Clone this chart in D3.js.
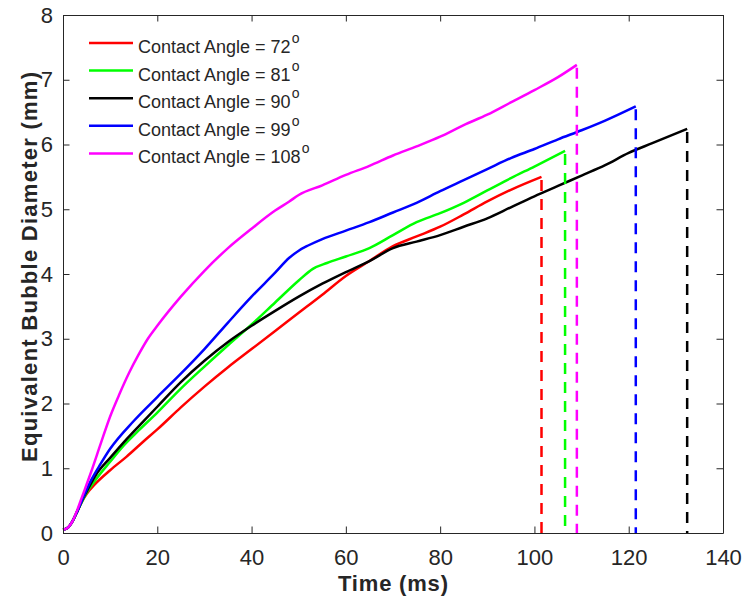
<!DOCTYPE html>
<html>
<head>
<meta charset="utf-8">
<script src="https://cdn.jsdelivr.net/npm/d3@7"></script>
<style>
	body { margin: 0; background: #fff; }
	text { font-family: "Liberation Sans", Arial, Helvetica, sans-serif; }
</style>
</head>
<body>
<div id="chart"></div>
<script>
// contact angles (legend) and line colours
var angles = [72, 81, 90, 99, 108];
var colors = ["#ff0000", "#00ff00", "#000000", "#0000ff", "#ff00ff"];

// [time (ms), equivalent bubble diameter (mm)]
var angle72 = [[0,0.05],[1,0.08],[2,0.18],[3,0.33],[4,0.48],[5,0.6],[7,0.77],[10,0.97],[13.5,1.18],[17,1.41],[20,1.6],[25,1.94],[30,2.26],[35,2.56],[40,2.84],[45,3.12],[50,3.4],[55,3.68],[60,3.97],[65,4.2],[70,4.43],[75,4.58],[80,4.73],[85,4.92],[90,5.12],[95,5.3],[101.5,5.5]];
var angle81 = [[0,0.05],[1,0.08],[2,0.18],[3,0.33],[4,0.48],[5,0.62],[7,0.83],[10,1.1],[13,1.36],[16,1.58],[20,1.86],[25,2.23],[30,2.57],[35,2.9],[40,3.22],[45,3.56],[50,3.9],[53,4.08],[56,4.17],[60,4.27],[65,4.4],[70,4.6],[75,4.8],[80,4.94],[85,5.1],[90,5.29],[95,5.48],[100,5.66],[106.5,5.9]];
var angle90 = [[0,0.05],[1,0.08],[2,0.18],[3,0.33],[4,0.5],[5,0.64],[7,0.9],[10,1.16],[13.5,1.45],[17,1.72],[20,1.95],[25,2.33],[30,2.66],[35,2.95],[40,3.2],[45,3.43],[50,3.65],[55,3.85],[60,4.03],[65,4.2],[70,4.4],[75,4.5],[80,4.6],[85,4.73],[90,4.86],[95,5.03],[100,5.2],[105,5.36],[110,5.52],[115,5.68],[120,5.87],[125,6.02],[132.4,6.24]];
var angle99 = [[0,0.05],[1,0.08],[2,0.18],[3,0.33],[4,0.5],[6,0.82],[8,1.07],[10,1.3],[15,1.73],[20,2.1],[25,2.46],[30,2.84],[35,3.25],[40,3.65],[45,4.02],[48,4.25],[50,4.36],[52,4.44],[55,4.54],[60,4.67],[65,4.8],[70,4.95],[75,5.1],[80,5.28],[85,5.45],[90,5.62],[95,5.79],[100,5.93],[105,6.08],[110,6.22],[115,6.37],[121.5,6.59]];
var angle108 = [[0,0.05],[1,0.08],[2,0.18],[3,0.35],[4,0.55],[6,0.95],[8,1.38],[10,1.8],[12,2.15],[14,2.47],[16,2.75],[18,3.0],[20,3.2],[25,3.65],[30,4.05],[35,4.4],[40,4.7],[45,4.98],[48,5.12],[50,5.22],[55,5.37],[60,5.53],[65,5.67],[70,5.83],[75,5.97],[80,6.12],[85,6.3],[90,6.46],[95,6.65],[100,6.84],[105,7.04],[109,7.23]];

var xTicks = [0, 20, 40, 60, 80, 100, 120, 140];
var yTicks = [0, 1, 2, 3, 4, 5, 6, 7, 8];

var series = [angle72, angle81, angle90, angle99, angle108];

var width = 742,
	height = 605,
	margin = {left: 63, right: 19, top: 15, bottom: 72},
	w = width - margin.left - margin.right,
	h = height - margin.top - margin.bottom,
	axisColor = "#262626";

var x = d3.scaleLinear().domain([0, 140]).range([0, w]);
var y = d3.scaleLinear().domain([0, 8]).range([h, 0]);

var svg = d3.select("#chart").append("svg")
	.attr("width", width)
	.attr("height", height)
	.style("background", "#fff");

var g = svg.append("g")
	.attr("transform", "translate(" + margin.left + "," + margin.top + ")");

var line = d3.line()
	.curve(d3.curveMonotoneX)
	.x(function(d) { return x(d[0]); })
	.y(function(d) { return y(d[1]); });

// curves
series.forEach(function(s, i) {
	g.append("path")
		.datum(s)
		.attr("fill", "none")
		.attr("stroke", colors[i])
		.attr("stroke-width", 2.5)
		.attr("stroke-linejoin", "round")
		.attr("d", line);
});

// dashed drop lines at detachment
series.forEach(function(s, i) {
	var last = s[s.length - 1];
	g.append("line")
		.attr("x1", x(last[0])).attr("x2", x(last[0]))
		.attr("y1", y(last[1]) + 3).attr("y2", y(0))
		.attr("stroke", colors[i])
		.attr("stroke-width", 2.5)
		.attr("stroke-dasharray", "11,8");
});

// axes (box with inward ticks)
function styleAxis(sel) {
	sel.select(".domain").attr("stroke", axisColor).attr("stroke-width", 1);
	sel.selectAll(".tick line").attr("stroke", axisColor);
	sel.selectAll("text")
		.attr("fill", axisColor)
		.style("font-size", "22px")
		.style("font-family", "'Liberation Sans', Arial, sans-serif");
}

g.append("g")
	.attr("transform", "translate(0," + h + ")")
	.call(d3.axisBottom(x).tickValues(xTicks).tickSizeInner(-6.5).tickSizeOuter(0).tickPadding(16))
	.call(styleAxis);

g.append("g")
	.call(d3.axisTop(x).tickValues(xTicks).tickSizeInner(-6.5).tickSizeOuter(0).tickFormat(""))
	.call(styleAxis);

g.append("g")
	.call(d3.axisLeft(y).tickValues(yTicks).tickSizeInner(-6.5).tickSizeOuter(0).tickPadding(10))
	.call(styleAxis);

g.append("g")
	.attr("transform", "translate(" + w + ",0)")
	.call(d3.axisRight(y).tickValues(yTicks).tickSizeInner(-6.5).tickSizeOuter(0).tickFormat(""))
	.call(styleAxis);

svg.selectAll(".domain").attr("fill", "none");

// axis titles
svg.append("text")
	.attr("x", margin.left + w / 2)
	.attr("y", 591)
	.attr("text-anchor", "middle")
	.attr("fill", axisColor)
	.style("font-size", "22px")
	.style("font-weight", "bold")
	.attr("textLength", 110)
	.text("Time (ms)");

svg.append("text")
	.attr("transform", "translate(37," + (margin.top + h / 2 - 7) + ") rotate(-90)")
	.attr("text-anchor", "middle")
	.attr("fill", axisColor)
	.style("font-size", "22px")
	.style("font-weight", "bold")
	.attr("textLength", 390)
	.text("Equivalent Bubble Diameter (mm)");

// legend, no box
var legend = svg.append("g").attr("transform", "translate(89,43)");
angles.forEach(function(a, i) {
	var row = legend.append("g").attr("transform", "translate(0," + (i * 27.6) + ")");
	row.append("line")
		.attr("x1", 0).attr("x2", 44)
		.attr("y1", 0).attr("y2", 0)
		.attr("stroke", colors[i])
		.attr("stroke-width", 2.5);
	var t = row.append("text")
		.attr("x", 49)
		.attr("y", 10)
		.attr("fill", axisColor)
		.style("font-size", "18px");
	t.append("tspan").text("Contact Angle = " + a);
	t.append("tspan")
		.attr("dy", -10)
		.attr("dx", 1)
		.style("font-size", "14px")
		.text("o");
});
</script>
</body>
</html>
